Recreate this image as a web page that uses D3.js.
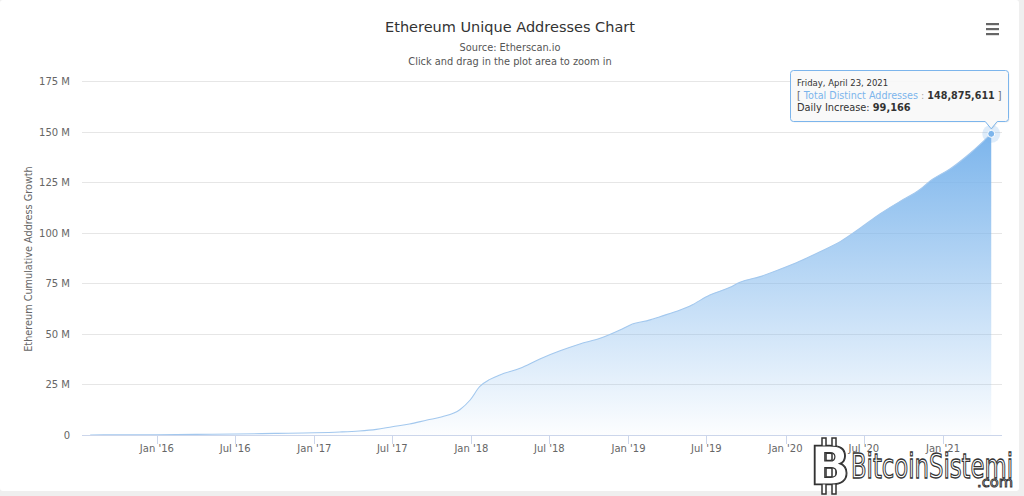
<!DOCTYPE html>
<html>
<head>
<meta charset="utf-8">
<script src="https://cdn.jsdelivr.net/npm/d3@7/dist/d3.min.js"></script>
<style>
  html, body { margin: 0; padding: 0; background: #efefef; }
  svg { display: block; }
  text { font-family: "DejaVu Sans", Verdana, sans-serif; }
</style>
</head>
<body>
<svg id="chart" width="1024" height="496"></svg>
<script>
// ---- data (values in millions of addresses) ----
const dates = ["2015-07-30","2015-10-01","2016-01-01","2016-04-01","2016-07-01","2016-10-01",
  "2017-01-01","2017-03-01","2017-04-15","2017-05-25","2017-07-01","2017-08-10","2017-09-20",
  "2017-10-25","2017-12-05","2017-12-29","2018-01-20","2018-02-13","2018-03-08","2018-04-24",
  "2018-06-09","2018-07-26","2018-09-10","2018-10-27","2018-12-12","2019-01-05","2019-02-20",
  "2019-03-15","2019-05-01","2019-05-24","2019-07-09","2019-08-25","2019-09-17","2019-11-03",
  "2019-12-19","2020-02-04","2020-03-21","2020-05-07","2020-06-22","2020-08-08","2020-09-23",
  "2020-11-09","2020-12-02","2021-01-17","2021-03-05","2021-04-23"];
const totals = [0.01,0.08,0.15,0.3,0.5,0.8,
  1.1,1.5,2.0,2.8,4.1,5.4,7.4,
  9.0,12.5,17.3,23.9,27.5,29.7,33.0,
  37.6,41.6,45.0,47.8,51.9,54.4,56.9,
  58.5,61.8,63.8,69.2,73.0,75.5,78.3,
  81.9,86.0,90.6,95.6,102.2,109.4,115.5,
  121.5,125.6,131.5,139.3,148.875611];
const yTicks = [0,25,50,75,100,125,150,175];
const xTickDates = ["2016-01-01","2016-07-01","2017-01-01","2017-07-01","2018-01-01","2018-07-01",
  "2019-01-01","2019-07-01","2020-01-01","2020-07-01","2021-01-01"];
const tooltipDate = "Friday, April 23, 2021";
const tooltipTotal = 148875611;
const tooltipDaily = 99166;

const title = "Ethereum Unique Addresses Chart";
const subtitle1 = "Source: Etherscan.io";
const subtitle2 = "Click and drag in the plot area to zoom in";
const yTitle = "Ethereum Cumulative Address Growth";

// ---- layout ----
const parse = d3.utcParse("%Y-%m-%d");
const data = dates.map((d, i) => ({ date: parse(d), v: totals[i] }));
const plot = { left: 82, right: 1002, top: 81, bottom: 435 };

const svg = d3.select("#chart");
svg.append("rect").attr("x", 0).attr("y", 0).attr("width", 1019).attr("height", 491)
  .attr("rx", 3).attr("fill", "#ffffff");

const x = d3.scaleUtc()
  .domain([d3.utcDay.offset(data[0].date, -19), d3.utcDay.offset(data[data.length - 1].date, 25)])
  .range([plot.left, plot.right]);
const y = d3.scaleLinear().domain([0, 175]).range([plot.bottom, plot.top]);

// gridlines
svg.append("g").selectAll("line").data(yTicks).join("line")
  .attr("x1", plot.left).attr("x2", plot.right)
  .attr("y1", d => Math.round(y(d)) + 0.5).attr("y2", d => Math.round(y(d)) + 0.5)
  .attr("stroke", "#e6e6e6").attr("stroke-width", 1);

// y labels
svg.append("g").selectAll("text").data(yTicks).join("text")
  .attr("x", 70).attr("y", d => y(d) + 4)
  .attr("text-anchor", "end").attr("font-size", 10).attr("fill", "#666")
  .text(d => d === 0 ? "0" : d + " M");

// y title
svg.append("text")
  .attr("transform", `translate(32,${(plot.top + plot.bottom) / 2 + 1}) rotate(-90)`)
  .attr("text-anchor", "middle").attr("font-size", 9.7).attr("fill", "#666")
  .text(yTitle);

// gradient
const defs = svg.append("defs");
const grad = defs.append("linearGradient").attr("id", "areaGrad")
  .attr("x1", 0).attr("y1", 0).attr("x2", 0).attr("y2", 1);
grad.append("stop").attr("offset", "0%").attr("stop-color", "#7cb5ec").attr("stop-opacity", 1);
grad.append("stop").attr("offset", "100%").attr("stop-color", "#7cb5ec").attr("stop-opacity", 0.02);

const area = d3.area().x(d => x(d.date)).y0(y(0)).y1(d => y(d.v)).curve(d3.curveMonotoneX);
const line = d3.line().x(d => x(d.date)).y(d => y(d.v)).curve(d3.curveMonotoneX);

svg.append("path").datum(data).attr("d", area).attr("fill", "url(#areaGrad)");
svg.append("path").datum(data).attr("d", line).attr("fill", "none")
  .attr("stroke", "#a3c8ee").attr("stroke-width", 1.1);

// x axis
const xt = xTickDates.map(parse);
svg.append("line").attr("x1", plot.left).attr("x2", plot.right)
  .attr("y1", plot.bottom + 0.5).attr("y2", plot.bottom + 0.5).attr("stroke", "#ccd6eb");
svg.append("g").selectAll("line").data(xt).join("line")
  .attr("x1", d => Math.round(x(d)) + 0.5).attr("x2", d => Math.round(x(d)) + 0.5)
  .attr("y1", plot.bottom).attr("y2", plot.bottom + 9).attr("stroke", "#ccd6eb");
const fmt = d3.utcFormat("%b '%y");
svg.append("g").selectAll("text").data(xt).join("text")
  .attr("x", d => x(d)).attr("y", plot.bottom + 17)
  .attr("text-anchor", "middle").attr("font-size", 10).attr("fill", "#666")
  .text(d => fmt(d));

// title & subtitle
svg.append("text").attr("x", 510).attr("y", 32).attr("text-anchor", "middle")
  .attr("font-size", 14.5).attr("fill", "#333").text(title);
svg.append("text").attr("x", 510).attr("y", 51).attr("text-anchor", "middle")
  .attr("font-size", 9.8).attr("fill", "#555").text(subtitle1);
svg.append("text").attr("x", 510).attr("y", 65).attr("text-anchor", "middle")
  .attr("font-size", 9.8).attr("fill", "#555").text(subtitle2);

// menu icon
svg.append("g").selectAll("rect").data([0, 1, 2]).join("rect")
  .attr("x", 986).attr("y", d => 23 + d * 5).attr("width", 13).attr("height", 2.2)
  .attr("fill", "#666");

// hover point
const last = data[data.length - 1];
const px = x(last.date), py = y(last.v);
svg.append("circle").attr("cx", px).attr("cy", py).attr("r", 9)
  .attr("fill", "#7cb5ec").attr("fill-opacity", 0.25);
svg.append("circle").attr("cx", px).attr("cy", py).attr("r", 3.5)
  .attr("fill", "#7cb5ec").attr("stroke", "#fff").attr("stroke-width", 1);

// tooltip
const tb = { l: 790.5, r: 1008.5, t: 70.5, b: 121.5 };
const rr = 3;
const tip = svg.append("g");
const tipPath = `M${tb.l + rr},${tb.t} L${tb.r - rr},${tb.t} Q${tb.r},${tb.t} ${tb.r},${tb.t + rr}
  L${tb.r},${tb.b - rr} Q${tb.r},${tb.b} ${tb.r - rr},${tb.b}
  L${px + 6},${tb.b} L${px},${py - 5} L${px - 6},${tb.b}
  L${tb.l + rr},${tb.b} Q${tb.l},${tb.b} ${tb.l},${tb.b - rr} L${tb.l},${tb.t + rr} Q${tb.l},${tb.t} ${tb.l + rr},${tb.t} Z`;
tip.append("path").attr("d", tipPath).attr("fill", "#000").attr("fill-opacity", 0.06)
  .attr("transform", "translate(1,1)");
tip.append("path").attr("d", tipPath).attr("fill", "#f9f9f9").attr("fill-opacity", 0.95)
  .attr("stroke", "#7cb5ec").attr("stroke-width", 1);
tip.append("text").attr("x", 797).attr("y", 86).attr("font-size", 8.5).attr("fill", "#333")
  .text(tooltipDate);
const t2 = tip.append("text").attr("x", 797).attr("y", 98.5).attr("font-size", 9.6).attr("fill", "#666");
t2.append("tspan").text("[ ");
t2.append("tspan").attr("fill", "#7cb5ec").text("Total Distinct Addresses");
t2.append("tspan").attr("fill", "#aaa").text(" : ");
t2.append("tspan").attr("fill", "#333").attr("font-weight", "bold").text(d3.format(",")(tooltipTotal));
t2.append("tspan").text(" ]");
const t3 = tip.append("text").attr("x", 797).attr("y", 111).attr("font-size", 9.8).attr("fill", "#333");
t3.append("tspan").text("Daily Increase: ");
t3.append("tspan").attr("font-weight", "bold").text(d3.format(",")(tooltipDaily));

// watermark
const wm = svg.append("g");
wm.append("text").attr("x", 830).attr("y", 484).attr("text-anchor", "middle")
  .attr("font-size", 52).attr("font-weight", "bold").attr("font-family", "Liberation Serif")
  .attr("fill", "#fff").attr("stroke", "#333").attr("stroke-width", 2.5).attr("paint-order", "stroke")
  .text("B");
wm.selectAll("rect.bar").data([-1, 1]).join("rect")
  .attr("x", d => 827 + d * 5).attr("y", 438).attr("width", 4).attr("height", 56)
  .attr("fill", "#fff").attr("stroke", "#333").attr("stroke-width", 1.5);
wm.append("text").attr("x", 830).attr("y", 484).attr("text-anchor", "middle")
  .attr("font-size", 52).attr("font-weight", "bold").attr("font-family", "Liberation Serif")
  .attr("fill", "#fff").attr("stroke", "#333").attr("stroke-width", 1.2)
  .text("B");
wm.append("text").attr("x", 851).attr("y", 478).attr("font-size", 33)
  .attr("font-family", "Liberation Serif").attr("textLength", 162).attr("lengthAdjust", "spacingAndGlyphs")
  .attr("fill", "#fff").attr("stroke", "#333").attr("stroke-width", 1.3)
  .text("BitcoinSistemi");
wm.append("text").attr("x", 977).attr("y", 487).attr("font-size", 14)
  .attr("font-family", "Liberation Serif").attr("textLength", 36).attr("lengthAdjust", "spacingAndGlyphs")
  .attr("fill", "#fff").attr("stroke", "#333").attr("stroke-width", 0.9)
  .text(".com");
</script>
</body>
</html>
